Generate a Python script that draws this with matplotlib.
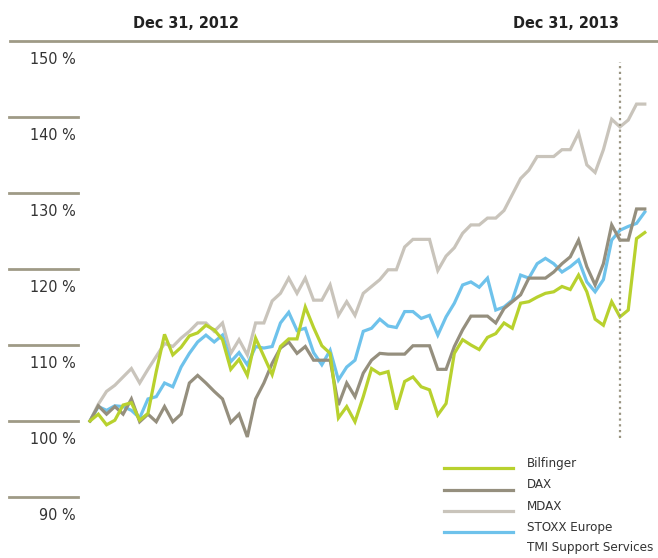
import matplotlib
matplotlib.use("Agg")
import matplotlib.pyplot as plt
from matplotlib.transforms import blended_transform_factory

# weekly index values, start = 100 %
bilfinger = [100, 100.9, 99.5, 100.1, 102.1, 102.4, 100.1, 101.0, 106.5, 111.4,
             108.7, 109.7, 111.2, 111.6, 112.6, 112.0, 110.7, 106.8, 108.1, 106.0,
             110.9, 108.5, 106.1, 109.8, 110.8, 110.8, 115.0, 112.3, 109.9, 108.9,
             100.4, 101.9, 99.9, 103.2, 106.9, 106.2, 106.5, 101.5, 105.2, 105.8,
             104.5, 104.1, 100.8, 102.3, 108.9, 110.7, 110.0, 109.4, 111.0, 111.5,
             112.9, 112.2, 115.5, 115.7, 116.3, 116.8, 117.0, 117.7, 117.3, 119.2,
             117.0, 113.4, 112.6, 115.7, 113.7, 114.6, 124.0, 124.8]
dax = [100, 102.0, 100.9, 101.9, 100.9, 102.9, 99.9, 100.9, 99.9, 101.9,
       99.9, 100.9, 105.0, 106.0, 105.0, 103.9, 102.9, 99.8, 100.9, 97.9,
       102.9, 105.0, 107.6, 109.6, 110.4, 108.9, 109.8, 108.0, 108.0, 108.0,
       102.1, 105.0, 103.2, 106.3, 108.0, 108.9, 108.8, 108.8, 108.8, 109.9,
       109.9, 109.9, 106.8, 106.8, 109.8, 112.0, 113.8, 113.8, 113.8, 112.9,
       114.8, 115.7, 116.6, 118.8, 118.8, 118.8, 119.6, 120.7, 121.6, 123.8,
       120.3, 117.9, 120.7, 125.8, 123.8, 123.8, 127.9, 127.9]
mdax = [100, 102.2, 103.9, 104.7, 105.8, 106.9, 105.0, 106.8, 108.5, 110.2,
        109.8, 110.9, 111.8, 112.9, 112.9, 111.8, 112.9, 108.9, 110.7, 108.7,
        112.9, 112.9, 115.8, 116.8, 118.8, 116.8, 118.8, 115.9, 115.9, 117.9,
        113.9, 115.7, 113.9, 116.8, 117.7, 118.6, 119.9, 119.9, 122.9, 123.9,
        123.9, 123.9, 119.8, 121.7, 122.8, 124.7, 125.8, 125.8, 126.7, 126.7,
        127.7, 129.8, 131.9, 133.0, 134.8, 134.8, 134.8, 135.7, 135.7, 137.9,
        133.7, 132.7, 135.7, 139.7, 138.7, 139.6, 141.7, 141.7]
stoxx = [100, 101.9, 101.4, 102.0, 101.9, 101.4, 100.4, 102.9, 103.2, 105.0,
         104.5, 107.1, 108.9, 110.4, 111.3, 110.4, 111.3, 107.8, 109.0, 107.4,
         109.8, 109.6, 109.8, 112.9, 114.3, 111.9, 112.2, 109.0, 107.4, 109.3,
         105.4, 107.1, 108.0, 111.8, 112.2, 113.4, 112.5, 112.3, 114.4, 114.4,
         113.5, 113.9, 111.3, 113.7, 115.5, 117.9, 118.3, 117.6, 118.8, 114.6,
         115.0, 115.9, 119.2, 118.8, 120.7, 121.4, 120.7, 119.6, 120.3, 121.2,
         118.3, 117.0, 118.6, 123.8, 125.1, 125.6, 126.0, 127.5]

names = ["Bilfinger", "DAX", "MDAX", "STOXX Europe\nTMI Support Services"]
colors = ["#b8d12e", "#958f7e", "#c9c4bb", "#6ec2eb"]
yticks = [90, 100, 110, 120, 130, 140, 150]
date_labels = ["Dec 31, 2012", "Dec 31, 2013"]
marker_week = 64

plt.rcParams['font.family'] = ['DejaVu Sans']
plt.rcParams['font.stretch'] = 'condensed'

fig = plt.figure(figsize=(6.58, 5.58), dpi=100)
ax = fig.add_axes([90/658, 1-497/558, (644.8-90)/658, (497-41)/558])
ax.set_xlim(0, len(dax)-1)
ax.set_ylim(90, 150)
ax.axis("off")

x = range(len(dax))
series = [mdax, stoxx, dax, bilfinger]
order_colors = [colors[2], colors[3], colors[1], colors[0]]
for s, c in zip(series, order_colors):
    ax.plot(x, s, color=c, lw=2.3, solid_joinstyle="miter", clip_on=False)

# dotted marker line
ax.vlines(marker_week, 97.8, 147.2, color="#9a9582", lw=1.6, linestyles=(0, (1, 1.6)))

# gridline stubs + labels on the left
tr = blended_transform_factory(fig.transFigure, ax.transData)
grid_c = "#9f9a86"
for v in yticks:
    if v == 150:
        ax.plot([10/658, 1], [v, v], color=grid_c, lw=2.0, transform=tr, clip_on=False)
    else:
        ax.plot([9/658, 78/658], [v, v], color=grid_c, lw=2.0, transform=tr, clip_on=False)
    ax.text(76/658, v - 2.5, f"{v} %", transform=tr, ha="right", va="center",
            fontsize=11.5, color="#333333")

fig.text(186/658, 1-23/558, date_labels[0], ha="center", va="center",
         fontsize=11.5, color="#222222", fontweight="bold")
fig.text(566/658, 1-23/558, date_labels[1], ha="center", va="center",
         fontsize=11.5, color="#222222", fontweight="bold")

# legend
leg_y = [468, 490, 511, 532]
for name, c, yy in zip(names, colors, leg_y):
    fig.add_artist(plt.Line2D([444/658, 513/658], [1-yy/558, 1-yy/558], color=c, lw=2.3))
    lines = name.split("\n")
    for k, t in enumerate(lines):
        fig.text(527/658, 1-(yy - 5 + 21*k)/558, t, ha="left", va="center",
                 fontsize=9.5, color="#333333")

fig.savefig("out.png", dpi=100, facecolor="white")
